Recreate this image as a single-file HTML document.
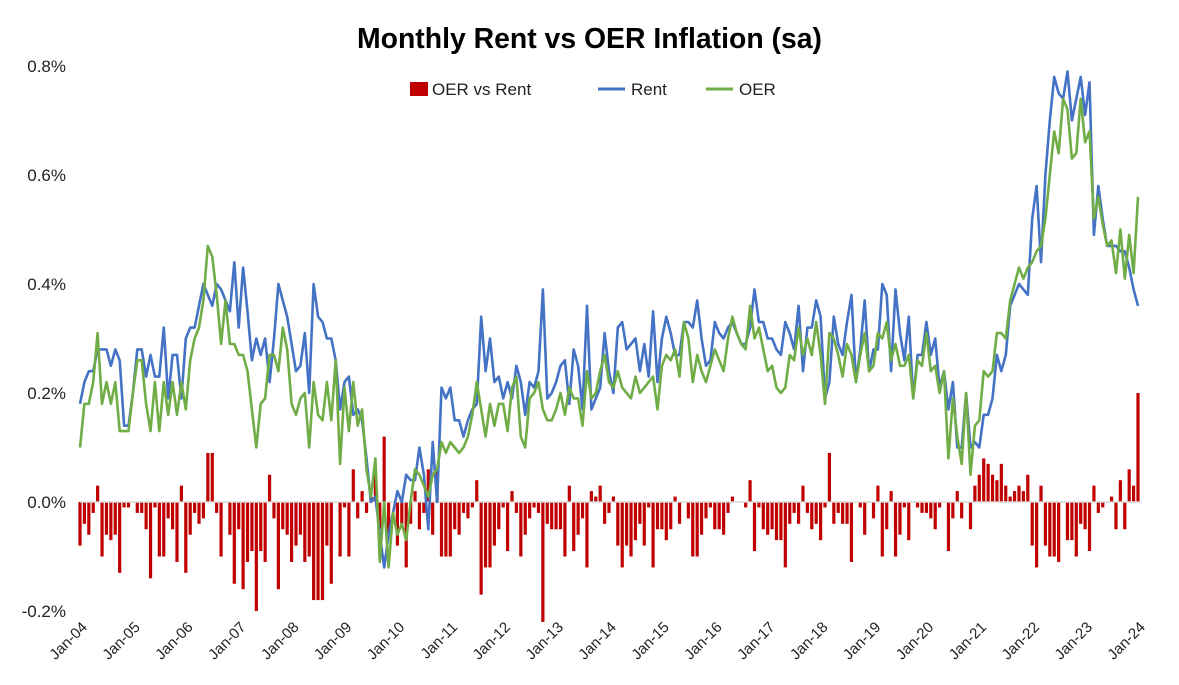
<!DOCTYPE html>
<html><head><meta charset="utf-8"><style>
body{margin:0;background:#fff;}
svg{display:block;font-family:"Liberation Sans Narrow","Liberation Sans",sans-serif;}
</style></head><body>
<svg id="chart" width="1179" height="685" viewBox="0 0 1179 685">
<text x="357" y="48" textLength="465" lengthAdjust="spacingAndGlyphs" font-size="29" font-weight="bold" fill="#000">Monthly Rent vs OER Inflation (sa)</text>
<g>
<rect x="410" y="82" width="18" height="14" fill="#c00000"/>
<text x="432" y="95" font-size="17" fill="#222">OER vs Rent</text>
<line x1="598" y1="89" x2="625" y2="89" stroke="#4472c4" stroke-width="3"/>
<text x="631" y="95" font-size="17" fill="#222">Rent</text>
<line x1="706" y1="89" x2="733" y2="89" stroke="#70ad47" stroke-width="3"/>
<text x="739" y="95" font-size="17" fill="#222">OER</text>
</g>
<g id="yaxis"></g><g id="bars"></g><g id="lines"></g><g id="xaxis"></g>
</svg>
<script>
const yTicks=[0.8,0.6,0.4,0.2,0.0,-0.2];
const xLabels=["Jan-04","Jan-05","Jan-06","Jan-07","Jan-08","Jan-09","Jan-10","Jan-11","Jan-12","Jan-13","Jan-14","Jan-15","Jan-16","Jan-17","Jan-18","Jan-19","Jan-20","Jan-21","Jan-22","Jan-23","Jan-24"];
const rent=[
.18,.22,.24,.24,.28,.28,.28,.25,.28,.26,.14,.14,
.20,.28,.28,.23,.27,.23,.23,.32,.19,.27,.27,.19,
.30,.32,.32,.36,.40,.38,.36,.40,.39,.37,.35,.44,
.32,.43,.35,.26,.30,.27,.30,.22,.30,.40,.37,.34,
.29,.24,.25,.31,.20,.40,.34,.33,.30,.30,.26,.17,
.22,.23,.16,.17,.15,.08,.00,.01,-.06,-.12,-.06,-.02,
.02,.00,.05,.04,.04,.10,.05,-.05,.11,.00,.21,.19,
.21,.15,.15,.12,.15,.17,.18,.34,.24,.30,.22,.23,
.19,.22,.19,.25,.22,.16,.22,.21,.24,.39,.19,.20,
.22,.25,.26,.18,.28,.25,.17,.36,.17,.19,.21,.31,
.24,.20,.32,.33,.28,.29,.30,.24,.29,.23,.35,.22,
.30,.34,.31,.27,.27,.33,.33,.32,.37,.30,.25,.26,
.33,.31,.30,.32,.33,.31,.29,.29,.32,.39,.33,.33,
.30,.30,.28,.27,.33,.31,.28,.36,.24,.32,.32,.37,
.34,.19,.22,.34,.29,.27,.33,.38,.22,.28,.37,.24,
.28,.28,.40,.38,.24,.39,.31,.26,.34,.19,.27,.27,
.33,.27,.30,.21,.24,.17,.22,.10,.10,.20,.10,.11,
.10,.16,.16,.19,.27,.24,.27,.36,.38,.40,.39,.38,
.52,.58,.44,.60,.70,.78,.75,.74,.79,.70,.74,.78,
.71,.77,.49,.58,.52,.47,.47,.47,.46,.46,.43,.39,
.36];
const oer=[
.10,.18,.18,.22,.31,.18,.22,.18,.22,.13,.13,.13,
.20,.26,.26,.18,.13,.22,.13,.22,.16,.22,.16,.22,
.17,.26,.30,.32,.37,.47,.45,.38,.29,.37,.29,.29,
.27,.27,.24,.17,.10,.18,.19,.27,.27,.24,.32,.28,
.18,.16,.19,.20,.10,.22,.16,.15,.22,.15,.26,.07,
.21,.13,.22,.14,.17,.06,.01,.08,-.11,.00,-.12,-.02,
-.06,-.04,-.07,.00,.06,.05,.03,.01,.05,.06,.11,.09,
.11,.10,.09,.10,.12,.16,.22,.17,.12,.18,.14,.18,
.18,.13,.21,.23,.12,.10,.19,.20,.22,.17,.15,.15,
.17,.20,.16,.21,.19,.19,.14,.24,.19,.20,.24,.27,
.22,.21,.24,.21,.20,.19,.23,.20,.21,.22,.23,.17,
.25,.27,.26,.28,.23,.33,.30,.22,.27,.24,.22,.25,
.28,.26,.24,.30,.34,.31,.29,.28,.36,.30,.32,.28,
.24,.25,.21,.20,.21,.27,.26,.32,.27,.30,.27,.33,
.27,.18,.31,.30,.27,.23,.29,.27,.22,.27,.31,.24,
.25,.31,.30,.33,.26,.29,.25,.25,.27,.19,.26,.25,
.31,.24,.25,.20,.24,.08,.19,.12,.07,.20,.05,.14,
.15,.24,.23,.24,.31,.31,.30,.37,.40,.43,.41,.43,
.44,.46,.47,.52,.60,.68,.64,.74,.72,.63,.64,.74,
.66,.68,.52,.56,.51,.47,.48,.42,.50,.41,.49,.42,
.56];
const NS="http://www.w3.org/2000/svg";
const X0=80,X1=1138,Y0=502,PX=545;
function xs(i){return X0+i*(X1-X0)/(rent.length-1);}
function ys(v){return Y0-v*PX;}
function mk(t,a,p){const e=document.createElementNS(NS,t);for(const k in a)e.setAttribute(k,a[k]);p.appendChild(e);return e;}
const ya=document.getElementById('yaxis');
yTicks.forEach(v=>{const t=mk('text',{x:66,y:ys(v)+6,'text-anchor':'end','font-size':17,fill:'#222'},ya);


t.textContent=v.toFixed(1)+'%';});
const bg=document.getElementById('bars');
rent.forEach((r,i)=>{const d=oer[i]-r;const y=ys(Math.max(d,0));const h=Math.abs(d)*PX;
const b=mk('rect',{x:xs(i)-1.6,y:y,width:3.2,height:Math.max(h,0.5),fill:'#c00000'},bg);

});
const zl=mk('line',{x1:X0,x2:X1+4,y1:Y0,y2:Y0,stroke:'#d9d9d9','stroke-width':1.5},bg);


const lg=document.getElementById('lines');
function line(arr,col,name){const p=mk('polyline',{points:arr.map((v,i)=>xs(i).toFixed(1)+','+ys(v).toFixed(1)).join(' '),fill:'none',stroke:col,'stroke-width':2.6,'stroke-linejoin':'round'},lg);

}
line(rent,'#4472c4','rent-line');
line(oer,'#70ad47','oer-line');
const xa=document.getElementById('xaxis');
xLabels.forEach((l,k)=>{const x=xs(k*12);const t=mk('text',{x:x+8,y:628,'text-anchor':'end','font-size':15,fill:'#222',transform:'rotate(-45 '+(x+8)+' 628)'},xa);


t.textContent=l;});
</script>
</body></html>
